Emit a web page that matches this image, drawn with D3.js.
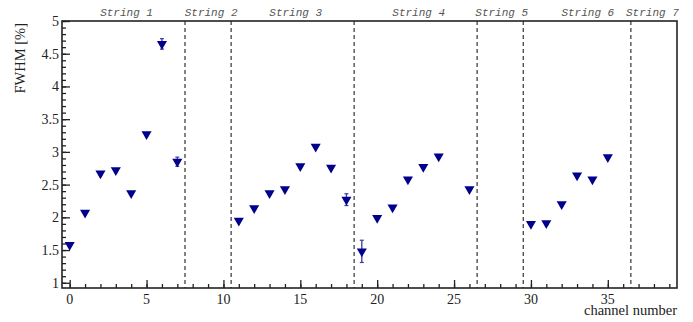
<!DOCTYPE html>
<html>
<head>
<meta charset="utf-8">
<script src="https://cdn.jsdelivr.net/npm/d3@7/dist/d3.min.js"></script>
<style>
  body { margin: 0; background: #fff; }
  svg { display: block; }
</style>
</head>
<body>
<svg width="693" height="322"></svg>
<script>
// channel numbers and measured FWHM values (%), with errors
const channels = [0, 1, 2, 3, 4, 5, 6, 7, 11, 12, 13, 14, 15, 16, 17, 18, 19, 20, 21, 22, 23, 24, 26, 30, 31, 32, 33, 34, 35];
const fwhm = [1.58, 2.07, 2.67, 2.72, 2.37, 3.27, 4.65, 2.85, 1.95, 2.14, 2.37, 2.43, 2.78, 3.08, 2.76, 2.27, 1.48, 1.99, 2.15, 2.58, 2.77, 2.93, 2.43, 1.90, 1.91, 2.20, 2.64, 2.58, 2.92];
const errs = [0.02, 0.02, 0.02, 0.02, 0.02, 0.02, 0.08, 0.07, 0.02, 0.02, 0.02, 0.02, 0.02, 0.02, 0.02, 0.09, 0.17, 0.02, 0.02, 0.02, 0.02, 0.02, 0.02, 0.02, 0.02, 0.02, 0.02, 0.02, 0.02];

// string separators and labels
const separators = [7.5, 10.5, 18.5, 26.5, 29.5, 36.5];
const stringNames = ['String 1', 'String 2', 'String 3', 'String 4', 'String 5', 'String 6', 'String 7'];
const stringPos = [3.7, 9.2, 14.7, 22.7, 28.1, 33.7, 37.9];

const xTicks = [0, 5, 10, 15, 20, 25, 30, 35];
const yTicks = [1, 1.5, 2, 2.5, 3, 3.5, 4, 4.5, 5];

const svg = d3.select('svg');
const margin = { top: 21, right: 16, bottom: 34, left: 62 };
const width = +svg.attr('width');
const height = +svg.attr('height');
const innerWidth = width - margin.left - margin.right;
const innerHeight = height - margin.top - margin.bottom;

const xScale = d3.scaleLinear().domain([-0.5, 39.5]).range([0, innerWidth]);
const yScale = d3.scaleLinear().domain([0.92, 5.0]).range([innerHeight, 0]);

const g = svg.append('g').attr('transform', `translate(${margin.left}, ${margin.top})`);
const axisColor = '#222';
const serif = '"Liberation Serif", "DejaVu Serif", serif';

/* ---- dashed string separators ---- */
g.selectAll('.sep')
  .data(separators)
  .enter()
  .append('line')
  .attr('class', 'sep')
  .attr('x1', d => xScale(d))
  .attr('x2', d => xScale(d))
  .attr('y1', 0)
  .attr('y2', innerHeight)
  .attr('stroke', '#333')
  .attr('stroke-width', 1.2)
  .attr('stroke-dasharray', '4,3');

/* ---- axes: ticks point inward (ROOT style) ---- */
const xMinor = d3.range(0, 40, 1);
const yMinor = d3.range(1, 5.001, 0.1);

function tickGroup(axis, tr) {
  const ag = g.append('g').attr('transform', tr || null).call(axis);
  ag.select('.domain').remove();
  ag.selectAll('.tick text').remove();
  return ag;
}
tickGroup(d3.axisTop(xScale).tickValues(xMinor).tickSize(4), `translate(0, ${innerHeight})`);
tickGroup(d3.axisTop(xScale).tickValues(xTicks).tickSize(8), `translate(0, ${innerHeight})`);
tickGroup(d3.axisRight(yScale).tickValues(yMinor).tickSize(4));
tickGroup(d3.axisRight(yScale).tickValues(yTicks).tickSize(8));
g.selectAll('.tick line').attr('stroke', axisColor).attr('stroke-width', 1.3);

g.selectAll('.xlab')
  .data(xTicks)
  .enter()
  .append('text')
  .attr('x', d => xScale(d))
  .attr('y', innerHeight + 16)
  .attr('text-anchor', 'middle')
  .style('font-family', serif)
  .style('font-size', '14px')
  .attr('fill', axisColor)
  .text(d => d);

g.selectAll('.ylab')
  .data(yTicks)
  .enter()
  .append('text')
  .attr('x', -3)
  .attr('y', d => yScale(d))
  .attr('dy', '0.35em')
  .attr('text-anchor', 'end')
  .style('font-family', serif)
  .style('font-size', '14px')
  .attr('fill', axisColor)
  .text(d => d);

/* ---- frame ---- */
g.append('rect')
  .attr('width', innerWidth)
  .attr('height', innerHeight)
  .attr('fill', 'none')
  .attr('stroke', axisColor)
  .attr('stroke-width', 1.6);

/* ---- string labels ---- */
g.selectAll('.slab')
  .data(stringNames)
  .enter()
  .append('text')
  .attr('x', (d, i) => xScale(stringPos[i]))
  .attr('y', -5)
  .attr('text-anchor', 'middle')
  .style('font-family', '"Liberation Mono", "DejaVu Sans Mono", monospace')
  .style('font-style', 'italic')
  .style('font-size', '11px')
  .attr('fill', '#555')
  .text(d => d);

/* ---- error bars ---- */
const pts = channels.map((c, i) => ({ c, v: fwhm[i], e: errs[i] }));
const blue = '#00008b';

const eb = g.selectAll('.eb').data(pts).enter().append('g').attr('class', 'eb');
eb.append('line')
  .attr('x1', d => xScale(d.c))
  .attr('x2', d => xScale(d.c))
  .attr('y1', d => yScale(d.v - d.e))
  .attr('y2', d => yScale(d.v + d.e))
  .attr('stroke', '#3a3aa0')
  .attr('stroke-width', 1.3);
eb.selectAll('.cap')
  .data(d => [d.v - d.e, d.v + d.e].map(y => ({ c: d.c, y })))
  .enter()
  .append('line')
  .attr('x1', d => xScale(d.c) - 2)
  .attr('x2', d => xScale(d.c) + 2)
  .attr('y1', d => yScale(d.y))
  .attr('y2', d => yScale(d.y))
  .attr('stroke', '#3a3aa0')
  .attr('stroke-width', 1.2);

/* ---- markers: down triangles ---- */
const tri = d3.symbol().type(d3.symbolTriangle).size(44);
g.selectAll('.pt')
  .data(pts)
  .enter()
  .append('path')
  .attr('d', tri)
  .attr('transform', d => `translate(${xScale(d.c)}, ${yScale(d.v)}) rotate(180)`)
  .attr('fill', blue);

/* ---- axis titles ---- */
svg.append('text')
  .attr('x', margin.left + innerWidth)
  .attr('y', 315)
  .attr('text-anchor', 'end')
  .style('font-family', serif)
  .style('font-size', '14.5px')
  .attr('fill', axisColor)
  .text('channel number');

svg.append('text')
  .attr('transform', `translate(25, ${margin.top + 2}) rotate(-90)`)
  .attr('text-anchor', 'end')
  .style('font-family', serif)
  .style('font-size', '14.5px')
  .attr('fill', axisColor)
  .text('FWHM [%]');
</script>
</body>
</html>
